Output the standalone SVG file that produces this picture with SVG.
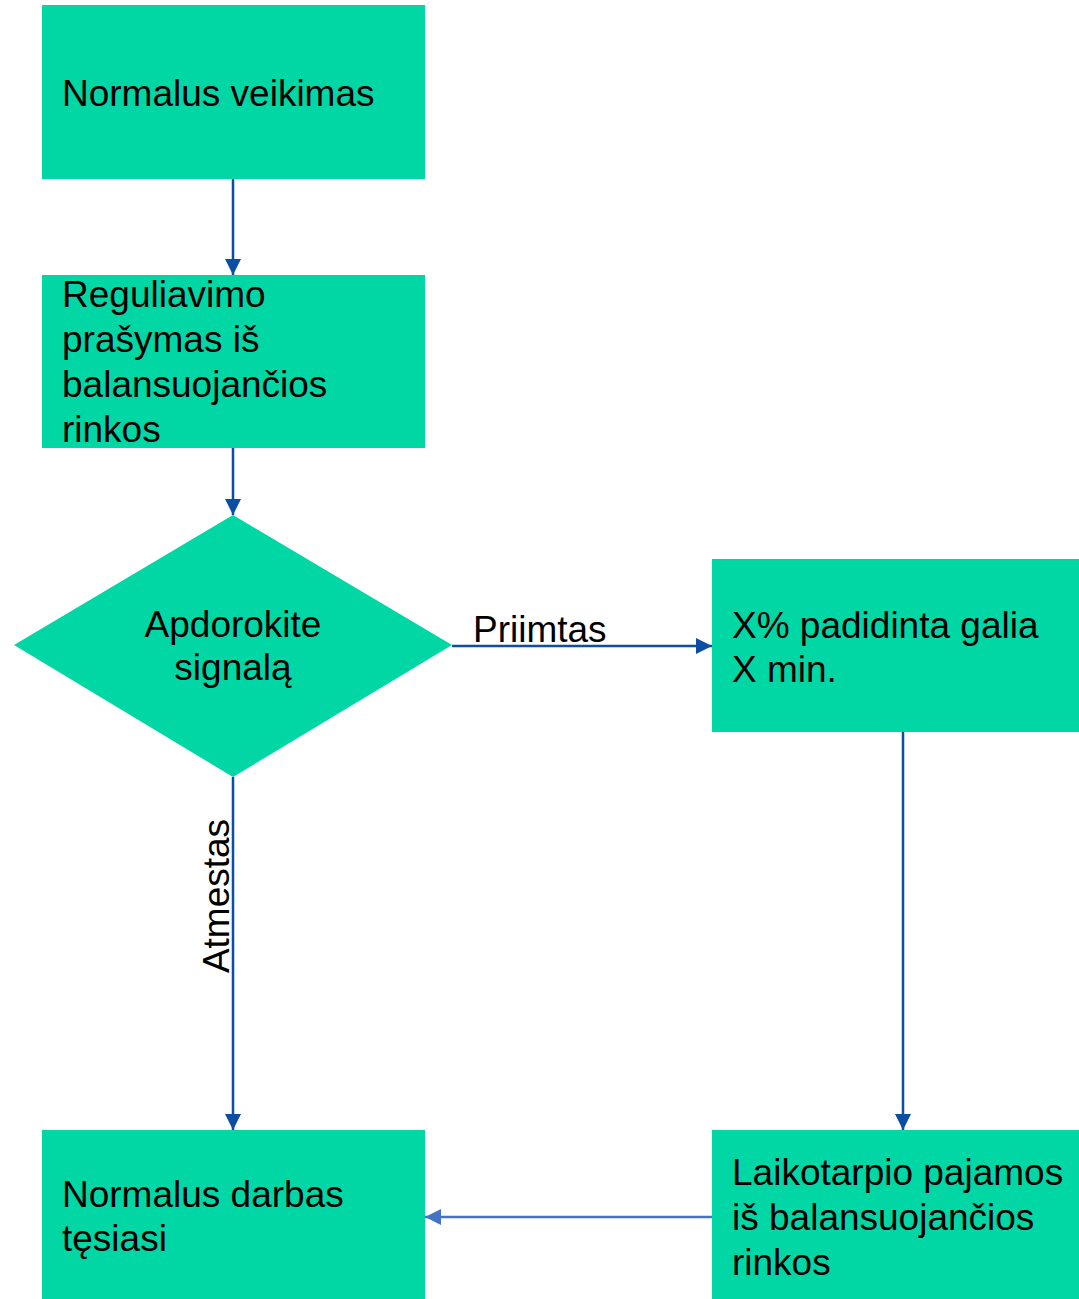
<svg xmlns="http://www.w3.org/2000/svg" width="1079" height="1299" viewBox="0 0 1079 1299">
<style>
.node{fill:#00D7A5;}
.t{font-family:"Liberation Sans",Arial,sans-serif;font-size:37px;fill:#000;}
.c{fill:none;stroke:#0B4EA2;stroke-width:2.5;}
.c2{fill:none;stroke:#4472C4;stroke-width:2.5;}
</style>
<defs>
<marker id="a" markerUnits="userSpaceOnUse" markerWidth="16" markerHeight="16" viewBox="0 0 16 16" refX="16" refY="8" orient="auto"><path d="M0,0 L16,8 L0,16 Z" fill="#0B4EA2"/></marker>
<marker id="a2" markerUnits="userSpaceOnUse" markerWidth="16" markerHeight="16" viewBox="0 0 16 16" refX="16" refY="8" orient="auto"><path d="M0,0 L16,8 L0,16 Z" fill="#4472C4"/></marker>
</defs>
<rect width="1079" height="1299" fill="#fff"/>
<g id="connectors">
<path class="c" d="M233,179 V275" marker-end="url(#a)"/>
<path class="c" d="M233,448 V515" marker-end="url(#a)"/>
<path class="c" d="M452,646 H712" marker-end="url(#a)"/>
<path class="c" d="M233,777 V1130" marker-end="url(#a)"/>
<path class="c" d="M903,732 V1130" marker-end="url(#a)"/>
<path class="c2" d="M712,1217 H425" marker-end="url(#a2)"/>
<text class="t" x="473" y="642">Priimtas</text>
<text class="t" transform="translate(229,896) rotate(-90)" text-anchor="middle">Atmestas</text>
</g>
<g id="n1">
<rect class="node" x="42" y="5" width="383" height="174"/>
<text class="t" x="62" y="106">Normalus veikimas</text>
</g>
<g id="n2">
<rect class="node" x="42" y="275" width="383" height="173"/>
<text class="t" x="62" y="307">Reguliavimo</text>
<text class="t" x="62" y="352">prašymas iš</text>
<text class="t" x="62" y="397">balansuojančios</text>
<text class="t" x="62" y="442">rinkos</text>
</g>
<g id="n3">
<polygon class="node" points="233,515 452,645 233,777 14,645"/>
<text class="t" x="233" y="637" text-anchor="middle">Apdorokite</text>
<text class="t" x="233" y="680" text-anchor="middle">signalą</text>
</g>
<g id="n4">
<rect class="node" x="712" y="559" width="367" height="173"/>
<text class="t" x="732" y="638">X% padidinta galia</text>
<text class="t" x="732" y="682">X min.</text>
</g>
<g id="n5">
<rect class="node" x="42" y="1130" width="383" height="169"/>
<text class="t" x="62" y="1207">Normalus darbas</text>
<text class="t" x="62" y="1251">tęsiasi</text>
</g>
<g id="n6">
<rect class="node" x="712" y="1130" width="367" height="169"/>
<text class="t" x="732" y="1185">Laikotarpio pajamos</text>
<text class="t" x="732" y="1230">iš balansuojančios</text>
<text class="t" x="732" y="1275">rinkos</text>
</g>
</svg>
